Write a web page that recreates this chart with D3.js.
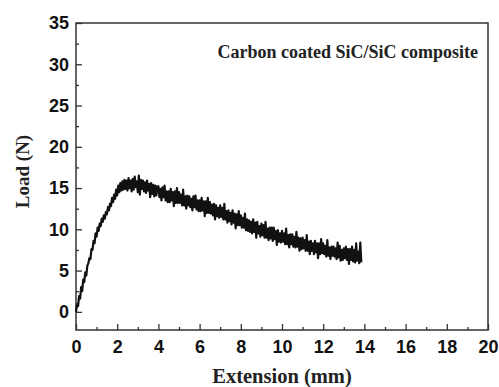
<!DOCTYPE html>
<html>
<head>
<meta charset="utf-8">
<script src="https://cdn.jsdelivr.net/npm/d3@7"></script>
<style>
  body { margin: 0; background: #fff; }
</style>
</head>
<body>
<div id="chart"></div>
<script>
// Load readings (N), one every 0.05 mm of extension
const stepMm = 0.05;
const loadN = [
  0.0, 0.9, 0.7, 1.9, 1.6, 3.0, 2.5, 3.9, 3.6, 4.8,
  4.4, 5.6, 5.9, 6.5, 6.4, 7.6, 7.5, 8.6, 8.3, 9.5,
  9.1, 10.2, 9.8, 10.7, 10.4, 11.3, 10.9, 11.7, 11.3, 12.1,
  11.8, 12.7, 12.3, 13.1, 12.8, 13.8, 13.3, 14.2, 13.7, 14.8,
  14.1, 15.3, 14.5, 15.6, 14.7, 15.8, 14.8, 16.0, 14.9, 15.9,
  14.7, 16.2, 15.0, 15.9, 14.6, 16.1, 14.8, 16.4, 15.1, 15.8,
  14.5, 16.5, 14.2, 16.0, 14.9, 15.9, 14.6, 15.7, 14.4, 15.9,
  14.7, 15.5, 13.9, 15.6, 14.3, 15.4, 14.0, 15.3, 14.1, 15.2,
  15.2, 13.9, 14.9, 13.5, 15.1, 13.9, 15.3, 13.5, 14.6, 13.3,
  14.6, 13.3, 14.9, 13.5, 14.5, 12.8, 14.6, 13.2, 15.0, 13.2,
  14.5, 13.2, 14.2, 12.9, 14.8, 12.9, 14.0, 12.5, 14.1, 12.9,
  14.0, 12.7, 13.7, 12.3, 14.0, 12.7, 14.1, 12.4, 13.5, 12.2,
  13.5, 12.2, 13.8, 12.3, 13.4, 11.6, 13.4, 12.0, 13.8, 12.0,
  13.3, 11.9, 13.0, 11.7, 13.1, 11.2, 12.9, 11.6, 12.6, 11.4,
  12.9, 11.5, 12.6, 11.2, 13.1, 11.2, 12.2, 10.8, 12.3, 11.0,
  12.0, 10.6, 12.3, 10.8, 11.9, 10.1, 11.8, 10.5, 12.2, 10.5,
  11.7, 10.2, 11.4, 10.2, 11.9, 9.9, 11.2, 9.8, 11.1, 9.7,
  10.9, 9.5, 11.2, 9.7, 10.8, 9.0, 10.9, 9.5, 10.4, 9.1,
  10.7, 9.3, 10.5, 9.0, 10.9, 9.0, 10.1, 8.7, 10.2, 8.9,
  10.2, 8.6, 10.2, 8.8, 9.8, 8.1, 9.9, 8.5, 9.5, 8.4,
  9.8, 8.5, 9.5, 8.2, 10.1, 8.2, 9.3, 7.8, 9.4, 8.2,
  9.4, 7.9, 9.1, 7.8, 9.7, 7.9, 9.0, 7.4, 8.9, 7.6,
  9.0, 7.7, 8.7, 7.4, 9.3, 7.4, 8.5, 7.0, 8.6, 7.4,
  8.3, 7.0, 8.6, 7.2, 8.3, 6.5, 8.3, 7.0, 8.8, 7.1,
  8.3, 7.0, 8.0, 6.7, 8.7, 6.8, 7.8, 6.4, 7.9, 6.8,
  7.9, 6.7, 7.7, 6.4, 8.4, 6.6, 8.0, 6.2, 7.5, 6.3,
  7.7, 6.5, 7.9, 6.3, 7.6, 5.8, 7.6, 6.3, 7.9, 6.1,
  7.5, 6.0, 8.3, 6.2, 7.3, 5.9, 8.4, 6.0
];
const extensionMm = loadN.map((_, i) => i * stepMm);

const xTicks = [0, 2, 4, 6, 8, 10, 12, 14, 16, 18, 20];
const xMinorTicks = [1, 3, 5, 7, 9, 11, 13, 15, 17, 19];
const yTicks = [0, 5, 10, 15, 20, 25, 30, 35];
const yMinorTicks = [2.5, 7.5, 12.5, 17.5, 22.5, 27.5, 32.5];

const W = 499, H = 387;
const box = {left: 76, right: 488, top: 23, bottom: 330};

const svg = d3.select("#chart")
  .append("svg")
    .attr("width", W)
    .attr("height", H);

const x = d3.scaleLinear().domain([0, 20]).range([box.left, box.right]);
const y = d3.scaleLinear().domain([-2.2, 35]).range([box.bottom, box.top]);

const tickFont = "bold 18px 'Liberation Sans', Arial, sans-serif";
const titleFont = "'Liberation Serif', 'Times New Roman', serif";

// X axis, ticks point inward
const gx = svg.append("g")
  .attr("transform", `translate(0,${box.bottom})`)
  .call(d3.axisBottom(x).tickValues(xTicks).tickSize(-6).tickPadding(7).tickFormat(d3.format("d")));
svg.append("g")
  .attr("transform", `translate(0,${box.bottom})`)
  .call(d3.axisBottom(x).tickValues(xMinorTicks).tickSize(-3).tickFormat(""));

// Y axis
const gy = svg.append("g")
  .attr("transform", `translate(${box.left},0)`)
  .call(d3.axisLeft(y).tickValues(yTicks).tickSize(-6).tickPadding(7).tickFormat(d3.format("d")));
svg.append("g")
  .attr("transform", `translate(${box.left},0)`)
  .call(d3.axisLeft(y).tickValues(yMinorTicks).tickSize(-3).tickFormat(""));

svg.selectAll(".domain").remove();
svg.selectAll(".tick line").attr("stroke", "#333").attr("stroke-width", 1.3);
svg.selectAll(".tick text").style("font", tickFont).attr("fill", "#111");
gx.selectAll(".tick text").attr("dy", "0.9em");

// frame
svg.append("rect")
  .attr("x", box.left)
  .attr("y", box.top)
  .attr("width", box.right - box.left)
  .attr("height", box.bottom - box.top)
  .attr("fill", "none")
  .attr("stroke", "#333")
  .attr("stroke-width", 1.5);

// curve
const line = d3.line()
  .x((d, i) => x(extensionMm[i]))
  .y(d => y(d));

svg.append("path")
  .datum(loadN)
  .attr("d", line)
  .attr("fill", "none")
  .attr("stroke", "#111")
  .attr("stroke-width", 2.2)
  .attr("stroke-linejoin", "round");

// labels
svg.append("text")
  .attr("x", (box.left + box.right) / 2)
  .attr("y", 383)
  .attr("text-anchor", "middle")
  .style("font-family", titleFont)
  .style("font-weight", "bold")
  .style("font-size", "20.5px")
  .attr("fill", "#222")
  .text("Extension (mm)");

svg.append("text")
  .attr("transform", `translate(29,${(box.top + box.bottom) / 2 - 5}) rotate(-90)`)
  .attr("text-anchor", "middle")
  .style("font-family", titleFont)
  .style("font-weight", "bold")
  .style("font-size", "19px")
  .attr("fill", "#222")
  .text("Load (N)");

svg.append("text")
  .attr("x", 478)
  .attr("y", 58)
  .attr("text-anchor", "end")
  .style("font-family", titleFont)
  .style("font-weight", "bold")
  .style("font-size", "18px")
  .attr("fill", "#222")
  .text("Carbon coated SiC/SiC composite");
</script>
</body>
</html>
